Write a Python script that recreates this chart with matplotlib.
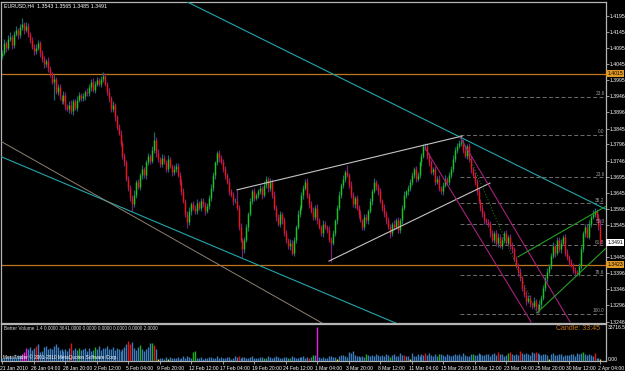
import matplotlib.pyplot as plt
import matplotlib.transforms as mtransforms
import numpy as np

# EURUSD H4, 21 Jan 2010 - 2 Apr 2010 (MT4 style chart)
# closes in pips: 4080 -> 1.4080
closes_pips = [
    4080, 4110, 4095, 4125, 4130, 4105, 4140, 4150, 4135, 4160,
    4170, 4150, 4165, 4140, 4120, 4100, 4085, 4095, 4110, 4080,
    4060, 4045, 4055, 4030, 4015, 3990, 4000, 3960, 3975, 3945,
    3930, 3950, 3915, 3905, 3920, 3900, 3930, 3910, 3935, 3950,
    3940, 3945, 3960, 3955, 3975, 3990, 3965, 3985, 3995, 3985,
    4000, 4010, 3985, 3960, 3940, 3905, 3920, 3880, 3850, 3830,
    3800, 3760, 3740, 3690, 3660, 3630, 3610, 3640, 3680, 3665,
    3700, 3720, 3700, 3740, 3760, 3745, 3780, 3810, 3770, 3750,
    3735, 3755, 3740, 3720, 3750, 3730, 3710, 3720, 3730, 3700,
    3680, 3650, 3620, 3580, 3555, 3590, 3610, 3600, 3590, 3615,
    3600, 3620, 3610, 3590, 3605, 3630, 3660, 3700, 3740, 3770,
    3755, 3740, 3720, 3700, 3680, 3650, 3640, 3620, 3620, 3600,
    3540, 3500, 3470, 3500, 3540, 3580, 3620, 3650, 3630, 3640,
    3650, 3660, 3640, 3670, 3690, 3660, 3680, 3640, 3600, 3570,
    3550, 3580, 3560, 3520, 3500, 3480, 3490, 3460, 3500, 3540,
    3580, 3600, 3640, 3660, 3680, 3640, 3610, 3590, 3570, 3600,
    3560, 3540, 3520, 3550, 3540, 3530, 3500, 3490, 3520, 3560,
    3600, 3640, 3670, 3690, 3710, 3700, 3670, 3640, 3610, 3630,
    3600, 3580, 3560, 3540, 3570, 3560, 3590, 3620, 3650, 3680,
    3665, 3650, 3620, 3600, 3580, 3560, 3540, 3520, 3550, 3540,
    3560, 3530, 3560, 3600, 3640, 3650, 3660, 3680, 3700, 3720,
    3690, 3700, 3740, 3760, 3790, 3790, 3760, 3740, 3710, 3720,
    3680, 3690, 3660, 3650, 3670, 3690, 3680, 3700, 3720, 3750,
    3780, 3790, 3800, 3805, 3780, 3760, 3790, 3750, 3720, 3700,
    3680, 3650, 3620, 3600, 3580, 3560, 3555, 3550, 3520, 3500,
    3520, 3490, 3510, 3480, 3500, 3520, 3490, 3510, 3480, 3470,
    3440, 3420, 3400, 3380, 3350, 3330, 3310, 3320, 3300, 3295,
    3310, 3290, 3285, 3300, 3320, 3350, 3380, 3400, 3420, 3450,
    3480, 3460, 3500, 3470, 3490, 3510, 3460, 3445, 3430, 3420,
    3405, 3400, 3395, 3420, 3470, 3520, 3540, 3510, 3550, 3570,
    3580, 3590, 3570, 3543, 3491,
]
first_open_pips = 4070

up_wick = [
    8, 12, 6, 10, 15, 5, 9, 14, 7, 10,
    20, 6, 11, 8, 5, 10, 7, 12, 9, 6,
    8, 10, 6, 12, 9, 7, 11, 5, 10, 8,
    6, 12, 9, 7, 10, 14, 6, 8, 11, 9,
    7, 10, 6, 12, 8, 9, 13, 7, 10, 6,
    9, 12, 8, 6, 11, 7, 10, 5, 9, 8,
    12, 6, 10, 8, 7, 11, 9, 14, 6, 10,
    8, 12, 7, 9, 11, 6, 10, 25, 8, 12,
    6, 10, 9, 7, 12, 8, 6, 11, 9, 7,
    10, 8, 12, 6, 9, 11, 7, 10, 8, 12,
    6, 9, 11, 7, 10, 8, 12, 9, 6, 5,
    10, 7, 12, 8, 6, 11, 9, 7, 10, 35,
    8, 12, 6, 10, 9, 7, 11, 8, 12, 6,
    9, 10, 7, 12, 8, 6, 12, 9, 11, 7,
    10, 8, 6, 12, 9, 7, 11, 8, 10, 6,
    12, 9, 7, 10, 8, 11, 6, 9, 12, 7,
    10, 8, 6, 11, 9, 7, 12, 8, 10, 6,
    9, 12, 7, 10, 8, 22, 6, 11, 9, 7,
    10, 8, 12, 6, 9, 11, 7, 10, 8, 12,
    6, 9, 11, 7, 10, 8, 12, 9, 6, 10,
    8, 11, 7, 9, 12, 6, 10, 8, 11, 7,
    9, 12, 6, 10, 8, 10, 7, 11, 9, 6,
    10, 8, 12, 7, 9, 11, 6, 10, 8, 12,
    7, 9, 11, 20, 8, 10, 6, 12, 9, 7,
    11, 8, 10, 6, 12, 9, 7, 10, 8, 11,
    6, 9, 12, 7, 10, 8, 11, 6, 9, 12,
    7, 10, 8, 11, 6, 9, 12, 7, 10, 8,
    11, 6, 9, 12, 7, 10, 8, 11, 6, 9,
    12, 7, 10, 8, 11, 6, 9, 12, 7, 10,
    8, 11, 6, 9, 12, 7, 10, 8, 11, 6,
    13, 9, 7, 10, 22,
]
down_wick = [
    10, 7, 12, 6, 9, 11, 8, 6, 10, 7,
    9, 12, 6, 10, 8, 7, 11, 9, 6, 12,
    8, 10, 7, 9, 11, 6, 56, 8, 10, 12,
    7, 9, 11, 6, 10, 8, 12, 7, 9, 6,
    10, 8, 11, 7, 9, 12, 6, 10, 8, 7,
    11, 9, 6, 10, 12, 8, 7, 11, 9, 6,
    10, 8, 12, 7, 9, 11, 20, 8, 10, 6,
    9, 12, 7, 10, 8, 11, 6, 9, 12, 7,
    10, 8, 6, 11, 9, 7, 12, 8, 10, 6,
    9, 11, 7, 10, 20, 8, 12, 6, 9, 11,
    7, 10, 8, 12, 6, 9, 11, 7, 10, 8,
    12, 6, 9, 11, 7, 10, 8, 12, 6, 9,
    11, 7, 22, 10, 8, 12, 6, 9, 11, 7,
    10, 8, 12, 6, 9, 11, 7, 10, 8, 12,
    6, 9, 11, 7, 10, 8, 12, 8, 9, 11,
    7, 10, 8, 12, 6, 9, 11, 7, 10, 8,
    12, 6, 9, 11, 7, 10, 8, 60, 6, 9,
    11, 7, 10, 8, 12, 6, 9, 11, 7, 10,
    8, 12, 6, 9, 11, 7, 10, 8, 12, 6,
    9, 11, 7, 10, 8, 12, 6, 15, 9, 11,
    7, 10, 8, 12, 6, 9, 11, 7, 10, 8,
    12, 6, 9, 11, 7, 10, 8, 12, 6, 9,
    11, 7, 10, 8, 12, 6, 9, 11, 7, 10,
    8, 12, 6, 9, 11, 7, 10, 8, 12, 6,
    9, 11, 7, 10, 8, 12, 6, 9, 11, 7,
    10, 8, 12, 6, 9, 11, 7, 10, 8, 12,
    6, 9, 11, 7, 10, 8, 12, 6, 9, 11,
    7, 10, 14, 8, 12, 6, 9, 11, 7, 10,
    8, 12, 6, 9, 11, 7, 10, 8, 12, 6,
    9, 11, 5, 7, 10, 8, 12, 6, 9, 11,
    7, 10, 8, 12, 6,
]

volume = [
    3000, 2500, 4000, 3500, 5000, 3000, 4500, 3500, 6000, 5500,
    7000, 9000, 13000, 12000, 14000, 11000, 12500, 15000, 16500, 9000,
    10000, 13500, 14500, 12000, 13000, 11500, 15000, 16500, 14000, 11000,
    12000, 10000, 11500, 9500, 12500, 17500, 11000, 12500, 10500, 13000,
    11000, 11500, 12500, 10000, 13000, 9500, 11000, 13500, 12000, 14500,
    11000, 12500, 13000, 15000, 11500, 12000, 14000, 10500, 13000, 12000,
    9500, 11500, 13500, 17000, 20000, 16500, 18500, 12500, 11000, 13500,
    16000, 12000, 9500, 11500, 14000, 17500, 18000, 16000, 12000, 1500,
    2500, 3000, 2000, 3500, 1500, 4000, 3000, 2800, 2500, 3500,
    2000, 3000, 4500, 3000, 5000, 3500, 2500, 9000, 10000, 3000,
    2500, 3500, 2000, 3000, 2500, 4000, 3500, 3000, 2500, 4500,
    3000, 3500, 2500, 3000, 4000, 3500, 2000, 3000, 4500, 3500,
    4500, 3000, 4000, 3500, 2500, 3000, 3500, 4500, 3000, 2500,
    3000, 3500, 4000, 3000, 2500, 4500, 3500, 3000, 4000, 5000,
    3500, 2500, 3000, 4000, 3500, 2500, 3000, 4500, 3500, 3000,
    2500, 3500, 4000, 5000, 3000, 3500, 2500, 4000, 6000, 5500,
    33716, 4000, 2500, 3500, 3000, 3000, 4500, 5000, 3500, 4000,
    1500, 4500, 5500, 6000, 5000, 4000, 9000, 7500, 10000, 6000,
    5000, 4500, 3500, 5000, 4000, 6500, 5500, 4500, 6000, 5000,
    7000, 5500, 4500, 6000, 5000, 6500, 5500, 4000, 6000, 7000,
    5000, 4500, 8000, 6000, 5500, 5000, 4500, 1500, 7500, 5000,
    4500, 6500, 5000, 7000, 5500, 8000, 5500, 7500, 6000, 5000,
    6500, 4500, 7000, 7000, 6000, 5000, 6500, 5500, 4500, 6000,
    7000, 5500, 6500, 5000, 7500, 6000, 5000, 4500, 6500, 7000,
    5500, 6000, 8000, 6500, 5500, 6000, 6500, 7000, 5000, 6500,
    7500, 6000, 9000, 7000, 6500, 5000, 6000, 7500, 9000, 6500,
    5500, 7000, 6000, 9500, 7500, 6500, 8000, 7000, 6000, 8500,
    7500, 9000, 8000, 7000, 6000, 6500, 7000, 5500, 1500, 6500,
    7500, 6000, 5500, 7000, 6500, 5000, 6000, 5500, 5500, 7000,
    6500, 5000, 8000, 6500, 7500, 8500, 7000, 5500, 7000, 6000,
    5000, 8000, 3000, 2500, 1500,
]
# Better Volume bar type by bar index (default: normal blue)
vol_kind = {
    10: "m", 11: "m", 12: "m", 17: "r", 35: "r", 39: "g", 47: "g",
    64: "r", 65: "r", 70: "g", 76: "g", 77: "r", 79: "y", 84: "y",
    97: "g", 98: "g", 120: "r", 133: "g", 145: "g", 156: "r", 158: "g",
    160: "m", 170: "y", 185: "g", 197: "g", 204: "r", 207: "y", 215: "r",
    222: "g", 239: "g", 252: "r", 257: "g", 258: "r", 263: "r", 271: "r",
    278: "y", 295: "g", 301: "r", 304: "y",
}
vol_max_label = "33716.5"

price_ticks = [1.4195, 1.4145, 1.4095, 1.4045, 1.3995, 1.3946, 1.3896,
               1.3845, 1.3796, 1.3746, 1.3695, 1.3645, 1.3596, 1.3545,
               1.3445, 1.3396, 1.3346, 1.3296, 1.3246]
date_labels = ["21 Jan 2010", "26 Jan 04:00", "28 Jan 20:00", "2 Feb 12:00",
               "5 Feb 04:00", "9 Feb 20:00", "12 Feb 12:00", "17 Feb 04:00",
               "19 Feb 20:00", "24 Feb 12:00", "1 Mar 04:00", "3 Mar 20:00",
               "8 Mar 12:00", "11 Mar 04:00", "15 Mar 20:00", "18 Mar 12:00",
               "23 Mar 04:00", "25 Mar 20:00", "30 Mar 12:00", "2 Apr 04:00"]
bars_per_label = 16

support_levels = [1.4015, 1.3423]
bid = 1.3491

# trend objects as (bar index, price) anchors
cyan_upper = [(93.8, 1.4239), (232.6, 1.3819)]
cyan_lower = [(-0.3, 1.3757), (198.5, 1.3245)]
tan_line = [(-0.3, 1.3804), (161.4, 1.3245)]
wedge_top = [(119.2, 1.3655), (233.6, 1.3822)]
wedge_bottom = [(166.0, 1.3434), (247.8, 1.3676)]
channel_a = [(232.6, 1.3819), (288.5, 1.3245)]
channel_b = [(214.8, 1.3785), (268.7, 1.3245)]
fib_anchor = [(232.6, 1.3825), (271.7, 1.3271)]
green_upper = [(262.1, 1.3447), (306.5, 1.3603)]
green_lower = [(271.7, 1.3273), (306.5, 1.3472)]
fib_ratios = [0.0, 23.6, 38.2, 50.0, 61.8, 78.6, 100.0]
extra_fib = (1.3943, "23.6")

# ---- build bars ----
close = 1 + np.array(closes_pips) / 10000
open_ = 1 + np.array([first_open_pips] + closes_pips[:-1]) / 10000
high = np.maximum(open_, close) + np.array(up_wick) / 10000
low = np.minimum(open_, close) - np.array(down_wick) / 10000
x = np.arange(len(close))
bull = close >= open_

W, H = 625, 371
fig = plt.figure(figsize=(W / 100, H / 100), dpi=100, facecolor="black")
plt.rcParams["font.family"] = ["Liberation Sans", "DejaVu Sans"]
FS = 3.6

xmin, xmax = -0.508, 306.56
ax = fig.add_axes([1.5 / W, 1 - 323 / H, 604 / W, 321.5 / H])
av = fig.add_axes([1.5 / W, 1 - 361 / H, 604 / W, 37 / H])
for a in (ax, av):
    a.set_facecolor("black")
    a.set_xlim(xmin, xmax)
    for s in a.spines.values():
        s.set_color("#b4b4b4")
        s.set_linewidth(0.9)
ax.set_ylim(1.32415, 1.42400)

# candles
wick_col = np.where(bull, "#1d6b6b", "#7e1f7a")
body_col = np.where(bull, "#19c819", "#f01414")
ax.vlines(x, low, high, colors=wick_col, lw=0.85, zorder=3)
ax.vlines(x, open_, close, colors=body_col, lw=1.0, zorder=4)

# horizontal support lines
for p in support_levels:
    ax.axhline(p, color="#c0761c", lw=0.9, zorder=2)

# trend lines
ax.axline(*cyan_upper, color="#22a6ac", lw=0.8, zorder=5)
ax.axline(*cyan_lower, color="#22a6ac", lw=0.8, zorder=5)
ax.axline(*tan_line, color="#8e8070", lw=0.7, zorder=5)
for seg in (wedge_top, wedge_bottom):
    ax.plot(*zip(*seg), color="#c4c4c4", lw=0.8, zorder=5)
for seg in (channel_a, channel_b):
    ax.plot(*zip(*seg), color="#a8207a", lw=0.8, zorder=5)
for seg in (green_upper, green_lower):
    ax.plot(*zip(*seg), color="#24a024", lw=0.8, zorder=5)
ax.plot(*zip(*fib_anchor), color="#2a8a2a", lw=0.7, ls=(0, (1, 2)), zorder=5)

# fibonacci levels
f_hi, f_lo = fib_anchor[0][1], fib_anchor[1][1]
f_x0 = fib_anchor[0][0]
levels = [(f_hi - r / 100 * (f_hi - f_lo), f"{r:.1f}") for r in fib_ratios]
levels.append(extra_fib)
for p, lab in levels:
    ax.plot([f_x0, xmax], [p, p], color="#6e6e6e", lw=0.7,
            ls=(0, (4, 2.5)), zorder=2)
    ax.text(xmax - 0.5, p + 0.0002, lab, color="#9a9a9a", fontsize=FS - 0.2,
            ha="right", va="bottom", zorder=6)

# right price axis
ax.yaxis.tick_right()
ax.set_yticks(price_ticks)
ax.set_yticklabels([f"{p:.4f}" for p in price_ticks])
ax.tick_params(axis="y", colors="white", labelsize=FS + 0.1, length=2, width=0.6, pad=1.0)
ax.set_xticks([])
ax.tick_params(axis="y", color="#b4b4b4")

trans = mtransforms.blended_transform_factory(ax.transAxes, ax.transData)
for p, fc in [(support_levels[0], "#e29a26"), (support_levels[1], "#e29a26"), (bid, "white")]:
    ax.text(1.003, p, f"{p:.4f}", transform=trans, fontsize=FS + 0.1, color="black",
            ha="left", va="center", clip_on=False, zorder=10,
            bbox=dict(boxstyle="square,pad=0.2", fc=fc, ec="none"))

fig.text(4 / W, 1 - 6 / H, "EURUSD,H4  1.3543 1.3565 1.3485 1.3491",
         color="white", fontsize=FS + 0.2, va="center", ha="left")

# volume panel
vcols = {"b": "#3b7dbe", "r": "#e81212", "g": "#18b418", "m": "#e81ee8", "y": "#e6e614"}
vol_colors = [vcols[vol_kind.get(i, "b")] for i in x]
av.vlines(x, 0, volume, colors=vol_colors, lw=1.0, zorder=3)
av.set_ylim(0, max(volume) * 37 / 34)
av.yaxis.tick_right()
av.set_yticks([max(volume), max(volume) * 0.06])
av.set_yticklabels([vol_max_label, "0.00"])
av.tick_params(axis="y", colors="white", labelsize=FS, length=0, pad=1.5)

ticks = [bars_per_label * k for k in range(len(date_labels))]
av.set_xticks(ticks)
av.set_xticklabels(date_labels, ha="left")
av.tick_params(axis="x", colors="white", labelsize=FS, length=2.5, width=0.6, pad=1)
av.tick_params(axis="x", color="#b4b4b4")
shift = mtransforms.ScaledTranslation(-2.5 / 100, 0, fig.dpi_scale_trans)
for lab in av.get_xticklabels():
    lab.set_transform(lab.get_transform() + shift)

fig.text(4 / W, 1 - 329 / H,
         "Better Volume 1.4 0.0000 3641.0000 0.0000 0.0000 0.0000 0.0000 2.0000",
         color="#d8d8d8", fontsize=FS - 0.2, va="center", ha="left")
fig.text(600 / W, 1 - 329 / H, "Candle: 33:45", color="#c8781e",
         fontsize=5.0, va="center", ha="right")
fig.text(3 / W, 1 - 357 / H, "MetaTrader \u00a9 2001-2010 MetaQuotes Software Corp.",
         color="white", fontsize=FS - 0.2, va="center", ha="left", zorder=10)

fig.savefig("out.png", dpi=100, facecolor="black")
